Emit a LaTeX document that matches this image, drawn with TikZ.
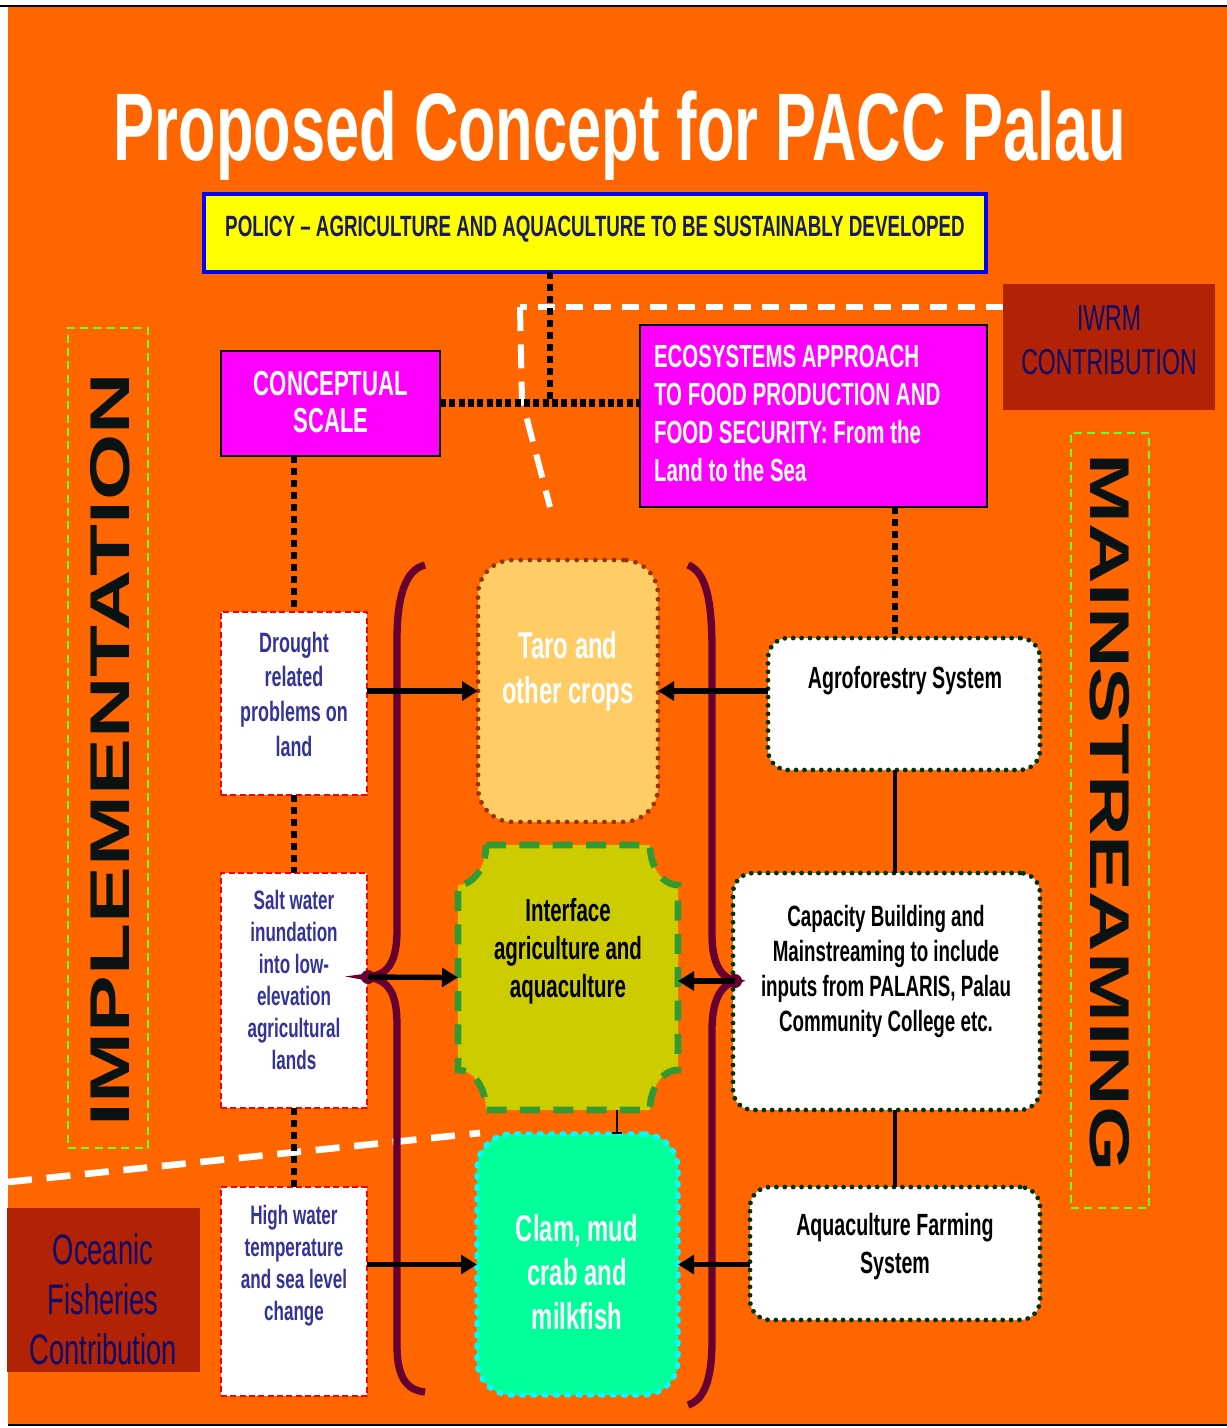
\documentclass[tikz,border=0pt]{standalone}
\usepackage{fontspec}
\setmainfont{Liberation Sans}
\newfontfamily\narrow[FakeStretch=0.64]{Liberation Sans}
\newfontfamily\wideA[FakeStretch=1.52]{Liberation Sans}
\newfontfamily\wideB[FakeStretch=1.5]{Liberation Sans}
\usetikzlibrary{arrows.meta}
\def\pu{*0.75pt}
\newcommand\setfs[2]{\fontsize{#1}{#2}\selectfont}
\definecolor{bgor}{HTML}{FF6600}
\definecolor{dred}{HTML}{B22204}
\definecolor{navyt}{HTML}{0B0B6E}
\definecolor{poltxt}{HTML}{1A1A5E}
\definecolor{lefttxt}{HTML}{333399}
\definecolor{mag}{HTML}{FF00FF}
\definecolor{pblue}{HTML}{0000FF}
\definecolor{pyel}{HTML}{FFFF00}
\definecolor{tarofill}{HTML}{FFCC66}
\definecolor{taroline}{HTML}{993300}
\definecolor{ifill}{HTML}{CCCC00}
\definecolor{iline}{HTML}{339933}
\definecolor{clamfill}{HTML}{00FF99}
\definecolor{clamline}{HTML}{00FFFF}
\definecolor{brc}{HTML}{660033}
\definecolor{lgreen}{HTML}{66FF33}
\definecolor{dkgreen}{HTML}{003300}
\definecolor{vtxt}{HTML}{0A1212}
\tikzset{
  box/.style={inner sep=0pt, outer sep=0pt},
  lbox/.style={box, draw=red, fill=white, line width=2pt, dash pattern=on 4.5pt off 2.5pt},
  rbox/.style={box, draw=dkgreen, fill=white, line width=3.6pt, line cap=round, dash pattern=on 0pt off 6.3pt, rounded corners=15pt},
  sidebox/.style={box, draw=lgreen, line width=1.6pt, dash pattern=on 6pt off 4pt},
  txt/.style={inner sep=0pt, outer sep=0pt, align=center},
  blkdot/.style={black, line width=5pt, dash pattern=on 5.5pt off 3.5pt},
  wdash/.style={white, line width=4.5pt, dash pattern=on 13pt off 8pt},
  arr/.style={black, line width=4pt, -{Triangle[length=12pt,width=14pt]}},
  brace/.style={draw=brc, line width=5.5pt},
}
\begin{document}
\begin{tikzpicture}[x=0.75pt,y=-0.75pt]
\useasboundingbox (0,0) rectangle (1227,1428);
\fill[white] (0,0) rectangle (1227,1428);
\fill[bgor] (8,7) rectangle (1227,1424);
\draw[black, line width=1.5pt] (0,6) -- (1227,6);
\draw[black, line width=1.5pt] (8,1425) -- (1227,1425);

% coordinates
\coordinate (w1) at (1003,307);
\coordinate (w2) at (520,307);
\coordinate (w3) at (522,400);
\coordinate (w4) at (550,507);
\coordinate (w5) at (8,1182);
\coordinate (w6) at (480,1133);
\coordinate (j1) at (550,403);
\coordinate (e1) at (895,0);
\coordinate (t1) at (617,0);
\coordinate (lb) at (368,977);
\coordinate (rb) at (735,981);

% white dashed lines
\draw[wdash] (w1) -- (w2);
\draw[wdash, dash pattern=on 18pt off 10pt] (w2) -- (w3) -- (w4);
\draw[wdash, line width=5pt, dash pattern=on 18pt off 11pt] (w5) -- (w6);

% title
\node[txt, text=white, anchor=base, font=\narrow\bfseries\setfs{72}{80}] (title) at (620,160) {Proposed Concept for PACC Palau};

% boxes
\node[box, draw=pblue, fill=pyel, line width=3pt, minimum width=782\pu, minimum height=78\pu] (policy) at (595,233) {};
\node[txt, text=poltxt, anchor=base, font=\narrow\bfseries\setfs{22}{26}] (policyt) at (595,236) {POLICY – AGRICULTURE AND AQUACULTURE TO BE SUSTAINABLY DEVELOPED};

\node[box, draw=black, fill=mag, line width=1.2pt, minimum width=219\pu, minimum height=105\pu] (conc) at (330.5,403.5) {};
\node[box, draw=black, fill=mag, line width=1.2pt, minimum width=347\pu, minimum height=182\pu] (eco) at (813.5,416) {};
\node[box, fill=dred, minimum width=212\pu, minimum height=126\pu] (iwrm) at (1109,347) {};
\node[box, fill=dred, minimum width=193\pu, minimum height=164\pu] (ocean) at (103.5,1290) {};

\node[sidebox, minimum width=80\pu, minimum height=820\pu] (impl) at (108,738) {};
\node[sidebox, minimum width=78\pu, minimum height=775\pu] (mainb) at (1110,820.5) {};

% dotted black connectors
\draw[blkdot] (policy.south -| j1) -- (j1);
\draw[blkdot, line width=6.5pt, dash pattern=on 4.5pt off 2.5pt] (conc.east |- j1) -- (eco.west |- j1);

\node[lbox, minimum width=146\pu, minimum height=183\pu] (drought) at (294,703.5) {};
\node[lbox, minimum width=146\pu, minimum height=235\pu] (salt) at (294,990.5) {};
\node[lbox, minimum width=146\pu, minimum height=209\pu] (high) at (294,1291.5) {};

\draw[blkdot] (drought.north |- conc.south) -- (drought.north);
\draw[blkdot] (drought.south) -- (salt.north);
\draw[blkdot] (salt.south) -- (high.north);

\node[rbox, minimum width=272\pu, minimum height=132\pu] (agro) at (904,704) {};
\node[rbox, minimum width=307\pu, minimum height=237\pu] (cap) at (886.5,991.5) {};
\node[rbox, minimum width=290\pu, minimum height=133\pu] (aqua) at (895,1253.5) {};

\draw[blkdot] (eco.south -| e1) -- (agro.north -| e1);
\draw[black, line width=3pt] (agro.south -| e1) -- (cap.north -| e1);
\draw[black, line width=3pt] (cap.south -| e1) -- (aqua.north -| e1);

% centre shapes
\node[box, draw=taroline, fill=tarofill, line width=3.6pt, line cap=round, dash pattern=on 0pt off 7pt, rounded corners=26pt, minimum width=180\pu, minimum height=262\pu] (taro) at (568,691) {};
\path[fill=ifill, draw=iline, line width=5pt, dash pattern=on 15pt off 10pt]
  (486,845) -- (650,845) arc[start angle=180, end angle=90, x radius=28, y radius=40]
  -- (678,1070) arc[start angle=270, end angle=180, x radius=28, y radius=40]
  -- (486,1110) arc[start angle=0, end angle=-90, x radius=28, y radius=40]
  -- (458,885) arc[start angle=90, end angle=0, x radius=28, y radius=40] -- cycle;
\node[box, minimum width=220\pu, minimum height=265\pu] (iface) at (568,977.5) {};
\node[box, draw=clamline, fill=clamfill, line width=4pt, line cap=round, dash pattern=on 1.5pt off 7pt, rounded corners=26pt, minimum width=201\pu, minimum height=261\pu] (clam) at (577.5,1264.5) {};
\draw[black, line width=1.5pt, -{Bar[width=8pt]}] (iface.south -| t1) -- (clam.north -| t1);

% braces
\draw[brace] (425,565) .. controls (404,570) and (397,600) .. (397,640) -- (397,930)
  .. controls (397,962) and (388,975) .. (lb) .. controls (388,980) and (397,992) .. (397,1025)
  -- (397,1345) .. controls (397,1375) and (405,1390) .. (425,1392);
\draw[brace] (688,565) .. controls (706,572) and (712,600) .. (712,650) -- (712,935)
  .. controls (712,965) and (722,978) .. (rb) .. controls (722,985) and (712,998) .. (712,1030)
  -- (712,1340) .. controls (712,1380) and (704,1400) .. (688,1405);
\fill[brc] (lb) circle[radius=7];
\fill[brc] (rb) circle[radius=7];

% arrows
\draw[arr] (drought.east |- taro.west) -- (taro.west);
\draw[arr] (agro.west |- taro.east) -- (taro.east);
\draw[arr] (lb) -- (iface.west);
\draw[arr] (rb) -- (rb -| iface.east);
\draw[arr] (high.east |- clam.west) -- (clam.west);
\draw[arr] (aqua.west |- clam.east) -- (clam.east);

% texts
\node[txt, text=white, anchor=north, font=\narrow\bfseries\setfs{26}{27.75}] (conct) at (331,371) {CONCEPTUAL\\SCALE};
\node[txt, text=white, anchor=north west, align=left, font=\narrow\bfseries\setfs{24}{28.5}] (ecot) at (654,345) {ECOSYSTEMS APPROACH\\TO FOOD PRODUCTION AND\\FOOD SECURITY: From the\\Land to the Sea};
\node[txt, text=navyt, anchor=north, font=\narrow\setfs{27}{33}] (iwrmt) at (1109,306) {IWRM\\CONTRIBUTION};
\node[txt, text=navyt, anchor=north, font=\narrow\setfs{32}{37.5}] (oceant) at (103,1234) {Oceanic\\Fisheries\\Contribution};

\node[txt, text=lefttxt, anchor=north, font=\narrow\bfseries\setfs{21}{26}] (droughtt) at (294,632) {Drought\\related\\problems on\\land};
\node[txt, text=lefttxt, anchor=north, font=\narrow\bfseries\setfs{20}{24}] (saltt) at (294,890) {Salt water\\inundation\\into low-\\elevation\\agricultural\\lands};
\node[txt, text=lefttxt, anchor=north, font=\narrow\bfseries\setfs{20}{24}] (hight) at (294,1205) {High water\\temperature\\and sea level\\change};

\node[txt, text=white, anchor=north, font=\narrow\bfseries\setfs{28}{34}] (tarot) at (568,631) {Taro and\\other crops};
\node[txt, text=black, anchor=north, font=\narrow\bfseries\setfs{24}{28.5}] (ifacet) at (568,898) {Interface\\agriculture and\\aquaculture};
\node[txt, text=white, anchor=north, font=\narrow\bfseries\setfs{28}{33}] (clamt) at (577,1214) {Clam, mud\\crab and\\milkfish};

\node[txt, text=black, anchor=north, font=\narrow\bfseries\setfs{23}{28}] (agrot) at (905,666) {Agroforestry System};
\node[txt, text=black, anchor=north, font=\narrow\bfseries\setfs{22}{26.25}] (capt) at (886,905) {Capacity Building and\\Mainstreaming to include\\inputs from PALARIS, Palau\\Community College etc.};
\node[txt, text=black, anchor=north, font=\narrow\bfseries\setfs{23}{28.5}] (aquat) at (895,1213) {Aquaculture Farming\\System};

\node[txt, text=vtxt, rotate=90, font=\wideA\bfseries\setfs{42}{48}] (implt) at (110,750) {IMPLEMENTATION};
\node[txt, text=vtxt, rotate=-90, font=\wideB\bfseries\setfs{42}{48}] (maint) at (1110,812.5) {MAINSTREAMING};
\end{tikzpicture}
\end{document}
